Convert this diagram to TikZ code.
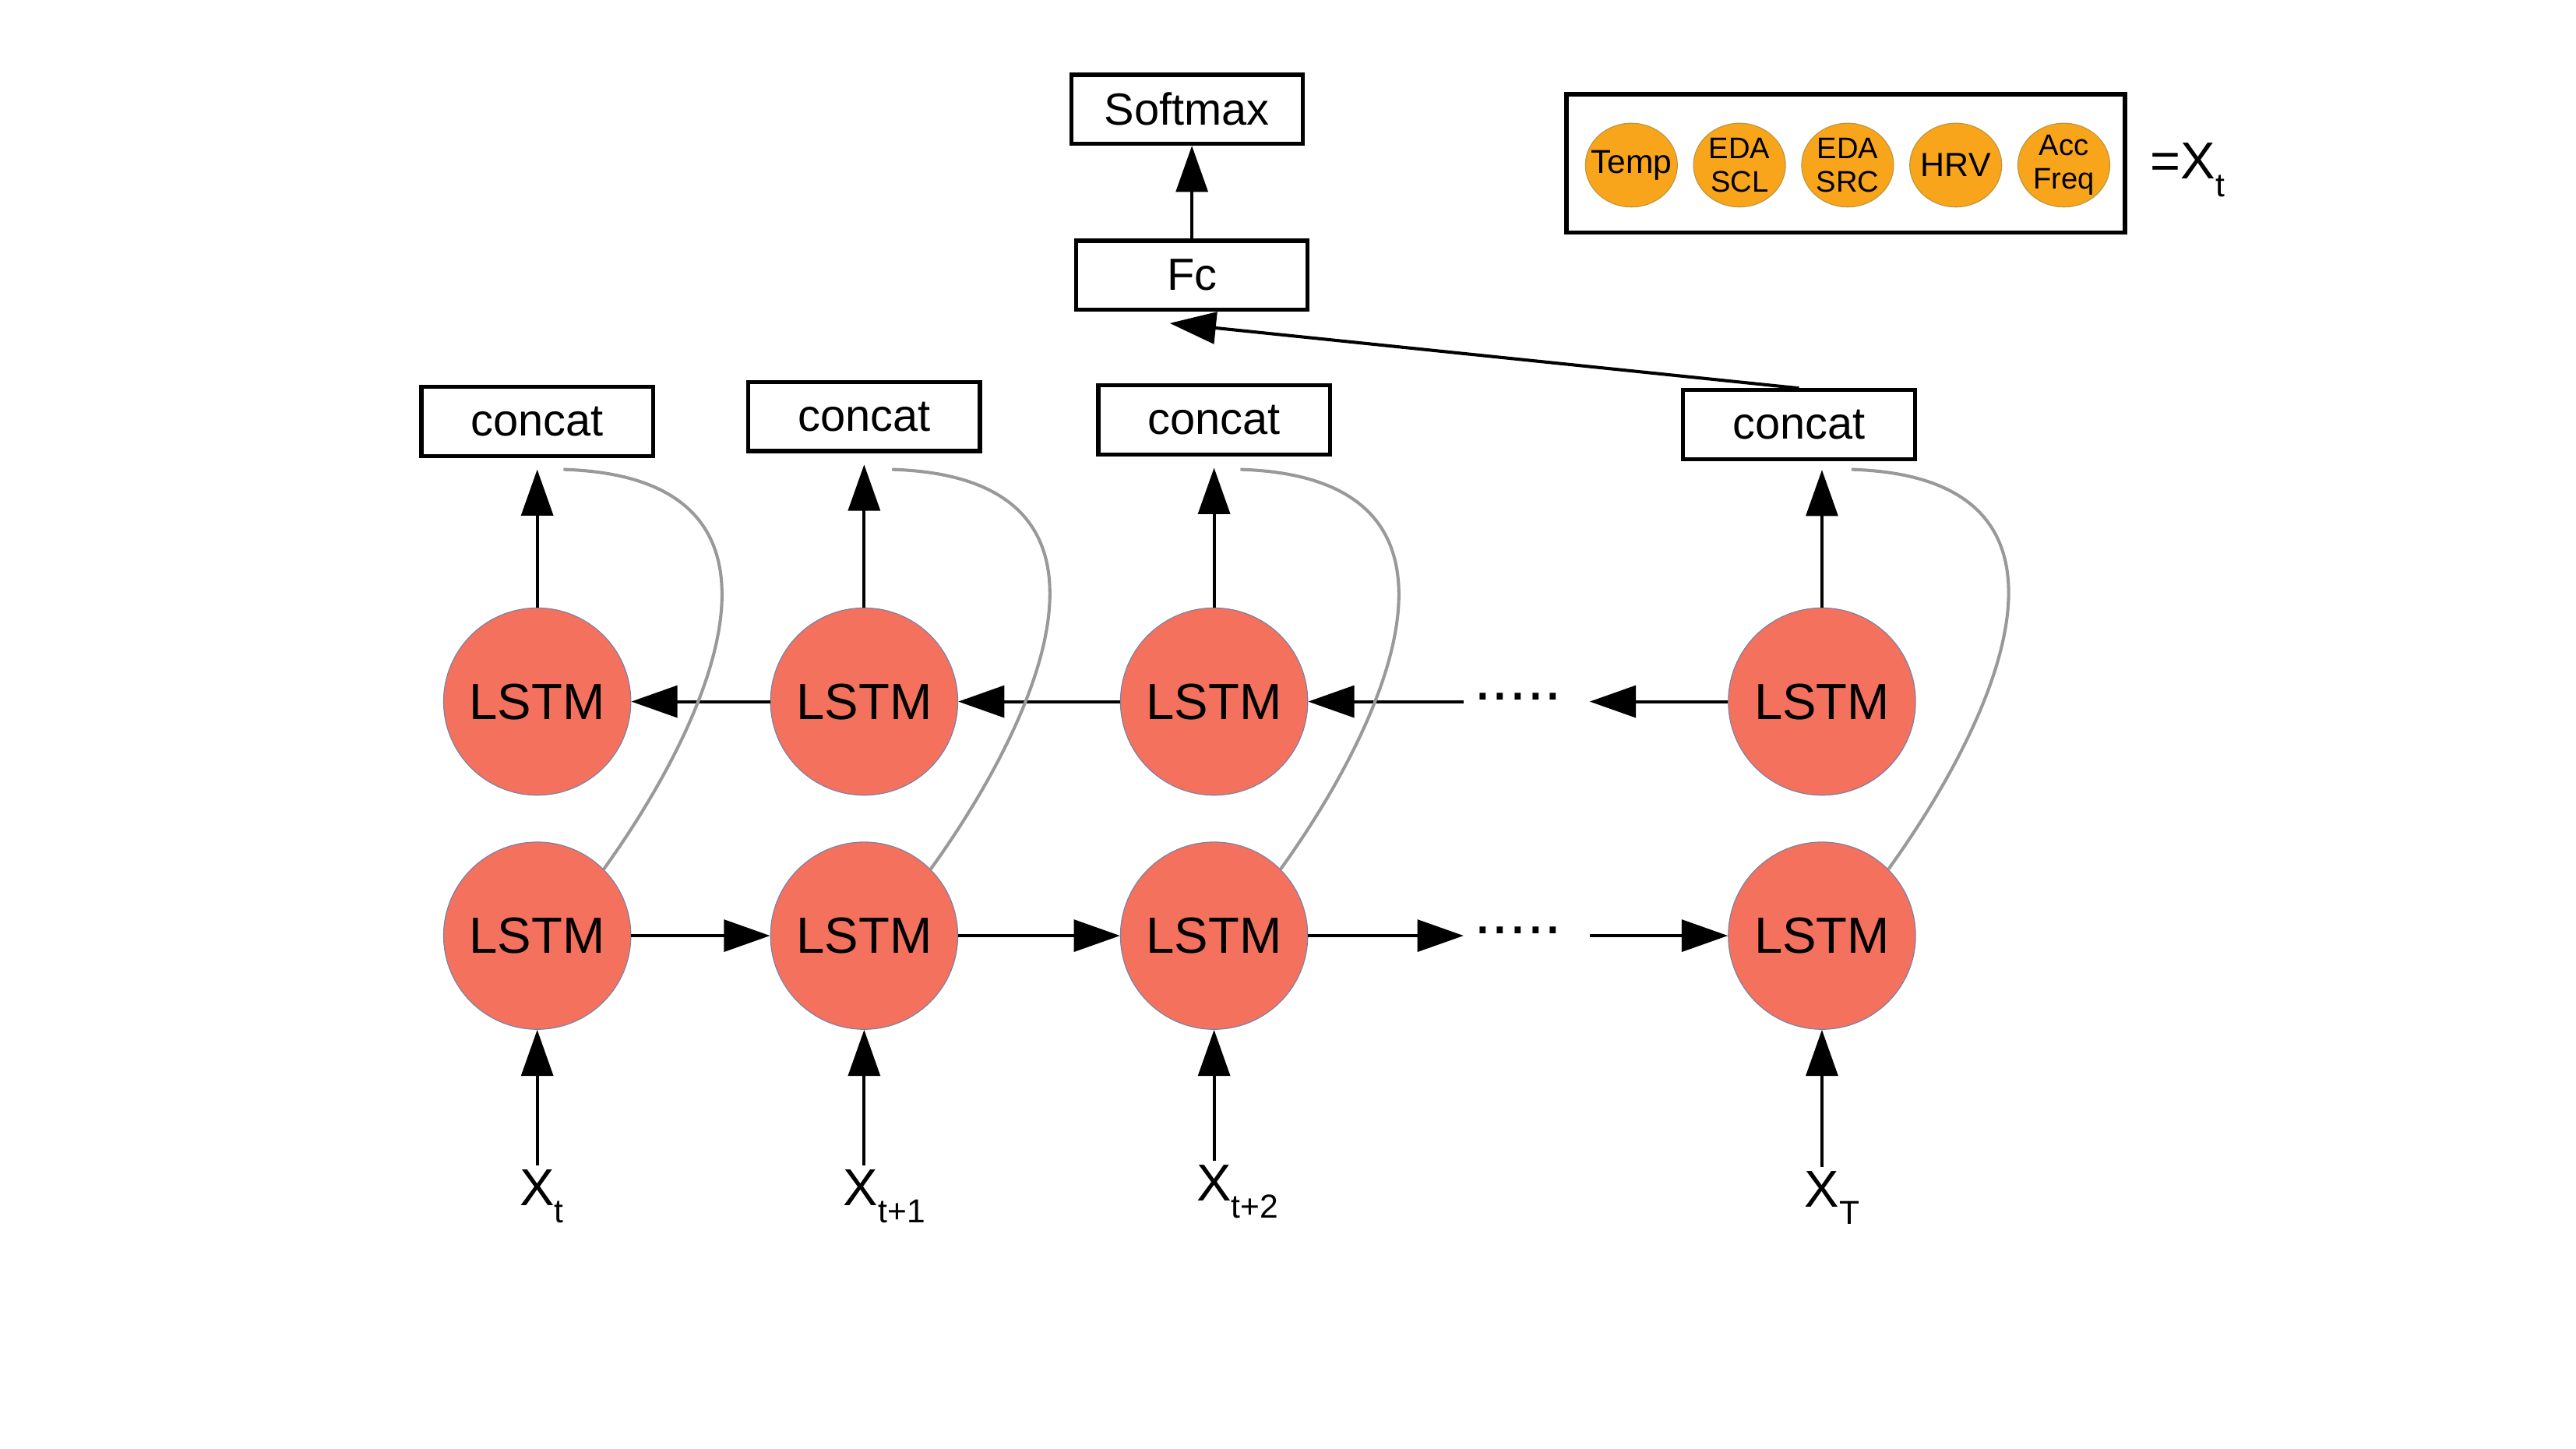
\documentclass[tikz,border=0pt]{standalone}
\usepackage{fontspec}
\setmainfont{Liberation Sans}
\usetikzlibrary{arrows.meta}
\usetikzlibrary{calc}
\usetikzlibrary{positioning}
\usetikzlibrary{shapes.geometric}
\definecolor{LstmRed}{HTML}{F4715E}
\definecolor{LstmEdge}{HTML}{7482A6}
\definecolor{FeatOrange}{HTML}{F9A51B}
\definecolor{FeatEdge}{HTML}{B8963E}
\definecolor{SkipGray}{HTML}{999999}
\newcommand{\xsub}[1]{\raisebox{-6pt}{\fontsize{11.5}{12}\selectfont #1}}

\begin{document}
\begin{tikzpicture}[x=0.02cm, y=-0.02cm,
    line width=1.1pt,
    >={Triangle[length=16pt,width=11pt]},
    layerbox/.style={shape=rectangle, draw, line width=1.4pt,
      minimum width=2.82cm, minimum height=0.84cm, inner sep=0pt,
      font=\fontsize{15.6}{18}\selectfont},
    lstm/.style={shape=circle, fill=LstmRed, draw=LstmEdge,
      line width=0.3pt, minimum size=2.28cm, inner sep=0pt,
      font=\fontsize{17.6}{20}\selectfont},
    feature/.style={shape=ellipse, fill=FeatOrange, draw=FeatEdge,
      line width=0.3pt, minimum width=1.12cm, minimum height=1.02cm,
      inner sep=-3pt, align=center,
      font=\fontsize{10.3}{11.4}\selectfont},
    inlabel/.style={inner sep=0pt, font=\fontsize{18}{22}\selectfont},
    skipline/.style={draw=SkipGray, line width=1.1pt},
    dotgap/.style={inner sep=3pt, font=\fontsize{22}{24}\selectfont}]

    % output head
    \node[name=fc, layerbox] at (725.5,167.5) {Fc};
    \node[name=softmax, layerbox] at (722.5,66.5) {Softmax};

    % feature legend
    \node[name=legend,
      shape=rectangle,
      draw,
      line width=1.5pt,
      minimum width=6.8cm,
      minimum height=1.68cm] at (1123.5,99.5) {};
    \node[name=temp, feature, font=\fontsize{11.5}{13}\selectfont] at (993,100.5) {Temp};
    \node[name=edascl, feature, right=0.186cm of temp] {EDA\\SCL};
    \node[name=edasrc, feature, right=0.186cm of edascl] {EDA\\SRC};
    \node[name=hrv, feature, right=0.186cm of edasrc,
      font=\fontsize{11.6}{13}\selectfont] {HRV};
    \node[name=accfreq, feature, right=0.186cm of hrv] {Acc\\Freq};
    \node[name=eqx, inlabel, anchor=base west] at (1308,109) {=X\xsub{t}};

    % concat layers
    \node[name=cat1, layerbox] at (327,256.5) {concat};
    \node[name=cat2, layerbox] at (526,253.5) {concat};
    \node[name=cat3, layerbox] at (739,255.5) {concat};
    \node[name=cat4, layerbox] at (1095,258.5) {concat};

    % backward and forward cells
    \node[name=top1, lstm] at (327,427) {LSTM};
    \node[name=top2, lstm] at (526,427) {LSTM};
    \node[name=top3, lstm] at (739,427) {LSTM};
    \node[name=top4, lstm] at (1109,427) {LSTM};
    \node[name=bot1, lstm, below=0.56cm of top1] {LSTM};
    \node[name=bot2, lstm, below=0.56cm of top2] {LSTM};
    \node[name=bot3, lstm, below=0.56cm of top3] {LSTM};
    \node[name=bot4, lstm, below=0.56cm of top4] {LSTM};

    \node[name=dotstop, dotgap] at (924,424) {.....};
    \node[name=dotsbot, dotgap] at (924,566) {.....};

    % inputs
    \node[name=in1, inlabel, anchor=north] at (327,711) {X\rlap{\xsub{t}}};
    \node[name=in2, inlabel, anchor=north] at (524,711) {X\rlap{\xsub{t+1}}};
    \node[name=in3, inlabel, anchor=north] at (739,708) {X\rlap{\xsub{t+2}}};
    \node[name=in4, inlabel, anchor=north] at (1109,712) {X\rlap{\xsub{T}}};

    \path (in1.north -| bot1) edge[->, shorten <=1pt] (bot1);
    \path (in2.north -| bot2) edge[->, shorten <=1pt] (bot2);
    \path (in3.north -| bot3) edge[->, shorten <=1pt] (bot3);
    \path (in4.north -| bot4) edge[->, shorten <=1pt] (bot4);

    \path (bot1) edge[->] (bot2);
    \path (bot2) edge[->] (bot3);
    \path (bot3) edge[->] (dotsbot.west |- bot3);
    \path (dotsbot.east |- bot4) edge[->, shorten <=6pt] (bot4);

    \path (top2) edge[->] (top1);
    \path (top3) edge[->] (top2);
    \path (dotstop.west |- top3) edge[->] (top3);
    \path (top4) edge[->, shorten >=6pt] (dotstop.east |- top4);

    \path (top1) edge[->, shorten >=4pt] (top1 |- cat1.south);
    \path (top2) edge[->, shorten >=4pt] (top2 |- cat2.south);
    \path (top3) edge[->, shorten >=4pt] (top3 |- cat3.south);
    \path (top4) edge[->, shorten >=3pt] (top4 |- cat4.south);

    % skip links from the forward cells
    \draw[skipline] (bot1.45) .. controls +(62,-86) and +(160,5) .. ($(top1 |- cat1.south)+(16,7)$);
    \draw[skipline] (bot2.45) .. controls +(62,-86) and +(160,5) .. ($(top2 |- cat2.south)+(17,10)$);
    \draw[skipline] (bot3.45) .. controls +(62,-86) and +(160,5) .. ($(top3 |- cat3.south)+(16,8)$);
    \draw[skipline] (bot4.45) .. controls +(62,-86) and +(160,5) .. ($(top4 |- cat4.south)+(18,5)$);

    \path (fc) edge[->] (fc |- softmax.south);
    \coordinate (fcin) at ($(fc.south)+(-13.5,7)$);
    \path (cat4.north) edge[->] (fcin);

    \path [use as bounding box] (0,0) rectangle (1568,881.9);
  \end{tikzpicture}
\end{document}
